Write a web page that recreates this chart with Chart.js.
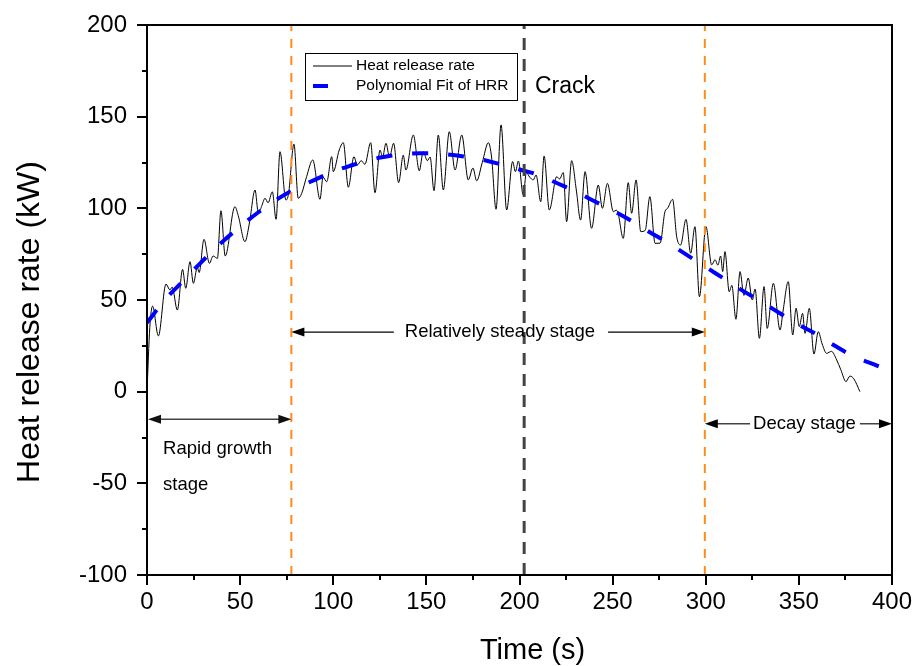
<!DOCTYPE html>
<html>
<head>
<meta charset="utf-8">
<script src="https://cdn.jsdelivr.net/npm/chart.js@4.4.1/dist/chart.umd.min.js"></script>
<style>
  html, body { margin: 0; padding: 0; background: #fff; }
  #wrap { width: 914px; height: 666px; }
</style>
</head>
<body>
<div id="wrap"><canvas id="c"></canvas></div>
<script>
// measured heat release rate (s, kW)
const timeS = [0, 1.5, 3, 6.1, 10.2, 12.3, 13.5, 16.3, 19.1, 20.8, 23.1, 24.9, 27, 28, 30.6, 33.5, 35.5, 37.8, 39.7, 42,
  47.2, 49, 52.6, 55, 58, 59.8, 61.5, 63.4, 65, 67.3, 69.3, 71.4, 74.6, 76, 78.9, 81.2, 83, 85.7, 89, 92.9,
  94.5, 96.5, 99.2, 100, 103.2, 105.4, 108.1, 111.1, 112.9, 115, 117, 120.1, 122.4, 125.1, 126.5, 128.3, 130.2, 132.4, 135.1, 137.6,
  139, 143, 146.2, 148.3, 150.5, 152, 154.1, 156.4, 159.1, 162.3, 165.4, 169, 172.5, 175, 177, 180, 183.3, 185, 187.4, 190.1,
  193.1, 196.3, 197.8, 199.4, 202, 203.7, 205.5, 207.4, 208.9, 211.4, 213.2, 216, 220, 221.5, 223.5, 225.3, 228, 230.5, 232.8, 235.2,
  238.7, 242.3, 244.5, 247.2, 250.4, 252, 253, 255.7, 258.4, 260.2, 262.6, 265.1, 267.5, 270, 272.8, 275.5, 278.1, 279.5, 282.2, 284.4,
  286.5, 289.4, 291.9, 294.2, 296.6, 300.1, 303.2, 305, 306.5, 308, 309.1, 310.3, 312.6, 314, 316.2, 318.4, 320.5, 322.8, 325, 326.5,
  328.8, 331.3, 333, 336.3, 339.9, 341.5, 344.3, 346.7, 348.5, 350.2, 352, 353.3, 355.6, 358.1, 360.4, 362.5, 364.9, 367.5, 370.3, 372.5,
  375.3, 377.4, 379.5, 382.8];
const hrrKW = [0, 35, 46.7, 30.4, 58.7, 55.5, 57, 44.5, 66.7, 56.4, 70.9, 59.1, 67.8, 65, 83.1, 70, 74, 72.7, 98.7, 74,
  100.9, 96, 81.8, 92, 110, 97.3, 101, 105.5, 103, 109, 94, 130.9, 104.5, 108, 135, 105.5, 108, 117.3, 126.4, 104.9,
  117, 114.5, 128.2, 120, 131.8, 135.8, 111.5, 128.2, 123.6, 126, 124, 135.8, 108.5, 131.8, 128, 135.5, 128, 135.5, 114, 129,
  120.9, 140, 120.5, 130.9, 126, 128, 109.6, 140, 110, 141.8, 120.9, 140, 115.5, 122, 115, 125, 135.8, 128, 99.5, 145.5,
  99.1, 125.5, 120, 125.8, 107.3, 119.5, 117, 115.5, 118.2, 103.6, 128.5, 99.1, 117.3, 116, 119.5, 92.7, 126, 110, 93.6, 120,
  89.1, 112.7, 100, 113.6, 98.2, 99, 97, 83.6, 114, 97.3, 115.5, 87.3, 88, 106.4, 80.9, 81, 98.2, 100, 104.9, 84.5,
  80, 94, 75.5, 90, 51.8, 90, 69.1, 72, 69, 74, 65.5, 76.4, 54.5, 58, 39.5, 65.5, 52.5, 62, 50, 56,
  29.1, 57.3, 34.5, 59.1, 33.6, 44, 60, 30.9, 45.5, 35.5, 42.7, 31.8, 45.5, 20.5, 32.7, 26, 20.9, 22, 17.3, 12,
  5.5, 8.5, 7, 0];

// polynomial fit
const fitTime = [0, 10, 20, 30, 40, 50, 60, 70, 80, 90, 100, 110, 120, 130, 140, 150, 160, 170, 180, 190,
  200, 210, 220, 230, 240, 250, 260, 270, 280, 290, 300, 310, 320, 330, 340, 350, 360, 370, 380, 390, 400];
const fitHRR = [37.6, 50.5, 61, 71.5, 81.3, 90, 98, 105, 110.8, 115.5, 120, 123.5, 126.5, 128.5, 129.8, 130, 129.5, 128.3, 126.5, 124,
  121.2, 118.2, 113.8, 109.2, 104, 98.8, 93.2, 87, 81, 74.5, 68, 61.5, 55, 49, 42.6, 36.5, 31, 24.6, 19, 15, 10.7];

const xTickValues = [0, 50, 100, 150, 200, 250, 300, 350, 400];
const yTickValues = [-100, -50, 0, 50, 100, 150, 200];
const stageTimes = [77.5, 299.5];
const crackTime = 202.5;
const legendLabels = ['Heat release rate', 'Polynomial Fit of HRR'];

const FONT = '"Liberation Sans", Arial, sans-serif';

function vline(t, color, width, dash) {
  return {
    data: [{ x: t, y: -100 }, { x: t, y: 200 }],
    borderColor: color, borderWidth: width, borderDash: dash,
    pointRadius: 0, order: 1
  };
}

function arrowHead(ctx, x, y, dir) {
  ctx.beginPath();
  ctx.moveTo(x, y);
  ctx.lineTo(x - dir * 13, y - 4.5);
  ctx.lineTo(x - dir * 13, y + 4.5);
  ctx.closePath();
  ctx.fill();
}

function hline(ctx, x1, x2, y) {
  ctx.beginPath();
  ctx.moveTo(x1, y);
  ctx.lineTo(x2, y);
  ctx.stroke();
}

const extras = {
  id: 'extras',
  afterDraw(chart) {
    const ctx = chart.ctx;
    const xs = chart.scales.x, ys = chart.scales.y;
    const a = chart.chartArea;
    ctx.save();

    // frame and ticks
    ctx.strokeStyle = '#000';
    ctx.lineWidth = 2;
    ctx.strokeRect(a.left, a.top, a.right - a.left, a.bottom - a.top);
    for (let v = 0; v <= 400; v += 25) {
      const px = Math.round(xs.getPixelForValue(v));
      const len = v % 50 === 0 ? 10 : 5;
      ctx.beginPath(); ctx.moveTo(px, a.bottom); ctx.lineTo(px, a.bottom + len); ctx.stroke();
    }
    for (let v = -100; v <= 200; v += 25) {
      const py = Math.round(ys.getPixelForValue(v));
      const len = v % 50 === 0 ? 10 : 5;
      hline(ctx, a.left - len, a.left, py);
    }

    // axis titles
    ctx.fillStyle = '#000';
    ctx.textAlign = 'center';
    ctx.textBaseline = 'middle';
    ctx.font = '29px ' + FONT;
    ctx.fillText('Time (s)', xs.getPixelForValue(207), 651);
    ctx.save();
    ctx.translate(30, ys.getPixelForValue(38));
    ctx.rotate(-Math.PI / 2);
    ctx.font = '32px ' + FONT;
    ctx.fillText('Heat release rate (kW)', 0, 0);
    ctx.restore();

    // stage arrows
    ctx.font = '18.5px ' + FONT;
    const x0 = xs.getPixelForValue(0);
    const xa = xs.getPixelForValue(stageTimes[0]);
    const xb = xs.getPixelForValue(stageTimes[1]);
    const xe = xs.getPixelForValue(400);

    ctx.strokeStyle = '#444'; ctx.fillStyle = '#111'; ctx.lineWidth = 1.5;
    let y = ys.getPixelForValue(-15);
    hline(ctx, x0 + 4, xa - 4, y);
    arrowHead(ctx, x0 + 1, y, -1);
    arrowHead(ctx, xa, y, 1);

    ctx.fillStyle = '#000';
    ctx.textAlign = 'left';
    ctx.fillText('Rapid growth', xs.getPixelForValue(8.6), ys.getPixelForValue(-31.3));
    ctx.fillText('stage', xs.getPixelForValue(8.6), ys.getPixelForValue(-51));

    ctx.strokeStyle = '#000'; ctx.lineWidth = 1.2;
    y = ys.getPixelForValue(32.5);
    ctx.textAlign = 'center';
    const midSteady = xs.getPixelForValue(189.5);
    const wSteady = ctx.measureText('Relatively steady stage').width;
    ctx.fillText('Relatively steady stage', midSteady, y);
    hline(ctx, xa + 4, midSteady - wSteady / 2 - 11, y);
    hline(ctx, midSteady + wSteady / 2 + 13, xb - 4, y);
    arrowHead(ctx, xa, y, -1);
    arrowHead(ctx, xb, y, 1);

    ctx.strokeStyle = '#444'; ctx.lineWidth = 1.5;
    y = ys.getPixelForValue(-17.5);
    const midDecay = xs.getPixelForValue(353);
    const wDecay = ctx.measureText('Decay stage').width;
    ctx.fillText('Decay stage', midDecay, y);
    hline(ctx, xb + 4, midDecay - wDecay / 2 - 3, y);
    hline(ctx, midDecay + wDecay / 2 + 4, xe - 4, y);
    arrowHead(ctx, xb, y, -1);
    arrowHead(ctx, xe, y, 1);

    // crack label
    ctx.textAlign = 'left';
    ctx.font = '23px ' + FONT;
    ctx.fillText('Crack', xs.getPixelForValue(208.3), ys.getPixelForValue(166.2));

    // legend
    const lx = 305, ly = 53, lw = 212, lh = 47;
    ctx.fillStyle = '#fff';
    ctx.fillRect(lx, ly, lw, lh);
    ctx.strokeStyle = '#000'; ctx.lineWidth = 1;
    ctx.strokeRect(lx + 0.5, ly + 0.5, lw, lh);
    hline(ctx, lx + 8, lx + 47, ly + 13);
    ctx.strokeStyle = '#0000ff'; ctx.lineWidth = 4;
    hline(ctx, lx + 8, lx + 23, ly + 33);
    ctx.fillStyle = '#000';
    ctx.font = '15.5px ' + FONT;
    ctx.fillText(legendLabels[0], lx + 51, ly + 13);
    ctx.fillText(legendLabels[1], lx + 51, ly + 33);

    ctx.restore();
  }
};

new Chart(document.getElementById('c'), {
  type: 'line',
  data: {
    datasets: [
      {
        label: legendLabels[0],
        data: timeS.map((t, i) => ({ x: t, y: hrrKW[i] })),
        borderColor: '#000', borderWidth: 1, pointRadius: 0,
        cubicInterpolationMode: 'monotone', order: 3
      },
      {
        label: legendLabels[1],
        data: fitTime.map((t, i) => ({ x: t, y: fitHRR[i] })),
        borderColor: '#0000ff', borderWidth: 4, borderDash: [16, 20],
        pointRadius: 0, tension: 0.4, order: 2
      },
      vline(stageTimes[0], '#ff8c1a', 2, [9, 8]),
      vline(stageTimes[1], '#ff8c1a', 2, [9, 8]),
      vline(crackTime, '#444', 3, [12, 9])
    ]
  },
  options: {
    responsive: true,
    maintainAspectRatio: false,
    animation: false,
    devicePixelRatio: 1,
    layout: { padding: { top: 25, right: 22, bottom: 0, left: 0 } },
    plugins: { legend: { display: false }, tooltip: { enabled: false } },
    scales: {
      x: {
        type: 'linear', min: 0, max: 400,
        afterBuildTicks: s => { s.ticks = xTickValues.map(v => ({ value: v })); },
        afterFit: s => { s.height = 91; },
        grid: { drawOnChartArea: false, drawTicks: true, tickLength: 13, tickColor: 'rgba(0,0,0,0)' },
        border: { display: false },
        ticks: { color: '#000', padding: 0, font: { family: FONT, size: 24 }, maxRotation: 0, autoSkip: false }
      },
      y: {
        min: -100, max: 200,
        afterBuildTicks: s => { s.ticks = yTickValues.map(v => ({ value: v })); },
        afterFit: s => { s.width = 147; },
        grid: { drawOnChartArea: false, drawTicks: true, tickLength: 20, tickColor: 'rgba(0,0,0,0)' },
        border: { display: false },
        ticks: { color: '#000', padding: 0, font: { family: FONT, size: 24 }, autoSkip: false }
      }
    }
  },
  plugins: [extras]
});
</script>
</body>
</html>
